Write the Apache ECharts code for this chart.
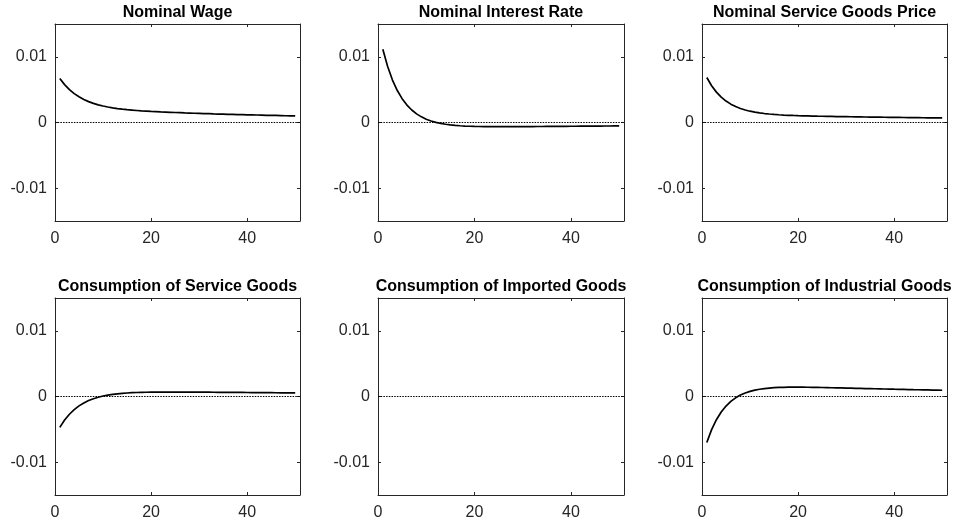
<!DOCTYPE html>
<html>
<head>
<meta charset="utf-8">
<script src="https://cdn.jsdelivr.net/npm/echarts@6/dist/echarts.min.js"></script>
<style>
html,body{margin:0;padding:0;background:#fff;}
#chart{width:953px;height:527px;}
</style>
</head>
<body>
<div id="chart"></div>
<script>
// ---------- DATA ----------
const periods = [1,2,3,4,5,6,7,8,9,10,11,12,13,14,15,16,17,18,19,20,21,22,23,24,25,26,27,28,29,30,31,32,33,34,35,36,37,38,39,40,41,42,43,44,45,46,47,48,49,50];

const panelTitles = ["Nominal Wage","Nominal Interest Rate","Nominal Service Goods Price","Consumption of Service Goods","Consumption of Imported Goods","Consumption of Industrial Goods"];

const nominalWage = [0.0067,0.00577,0.00501,0.0044,0.00391,0.00351,0.00318,0.00291,0.00269,0.00251,
  0.00236,0.00223,0.00212,0.00203,0.00195,0.00189,0.00183,0.00177,0.00173,0.00168,
  0.00165,0.00161,0.00158,0.00155,0.00152,0.00149,0.00146,0.00144,0.00141,0.00139,
  0.00136,0.00134,0.00131,0.00129,0.00127,0.00125,0.00123,0.00121,0.00119,0.00117,
  0.00116,0.00114,0.00112,0.0011,0.00108,0.00107,0.00105,0.00103,0.00102,0.001];

const nominalInterestRate = [0.01115,0.008519,0.006468,0.00487,0.003626,0.002656,0.001902,0.001316,0.00086,0.000506,
  0.000232,0.000019,-0.000145,-0.000271,-0.000367,-0.000442,-0.000498,-0.000541,-0.000572,-0.000595,
  -0.000612,-0.000623,-0.000631,-0.000635,-0.000637,-0.000637,-0.000636,-0.000634,-0.00063,-0.000626,
  -0.000622,-0.000617,-0.000612,-0.000607,-0.000602,-0.000597,-0.000591,-0.000586,-0.00058,-0.000574,
  -0.000569,-0.000563,-0.000557,-0.000552,-0.000546,-0.000541,-0.000535,-0.00053,-0.000525,-0.000519];

const serviceGoodsPrice = [0.00685,0.005603,0.004627,0.003863,0.003264,0.002794,0.002424,0.002133,0.001902,0.00172,
  0.001575,0.001459,0.001366,0.001291,0.001229,0.001178,0.001136,0.0011,0.00107,0.001044,
  0.001021,0.001,0.000982,0.000965,0.00095,0.000935,0.000922,0.000909,0.000897,0.000885,
  0.000873,0.000862,0.000851,0.00084,0.000829,0.000819,0.00081,0.0008,0.00079,0.000781,
  0.000771,0.000762,0.000753,0.000744,0.000735,0.000726,0.000717,0.000709,0.0007,0.000692];

const serviceConsumption = [-0.0047,-0.003589,-0.002702,-0.001994,-0.001429,-0.000979,-0.000621,-0.000335,-0.00011,0.00007,
  0.000213,0.000325,0.000413,0.000482,0.000536,0.000577,0.000609,0.000633,0.00065,0.000663,
  0.000672,0.000677,0.00068,0.000681,0.000681,0.000679,0.000676,0.000673,0.000668,0.000664,
  0.000659,0.000654,0.000648,0.000643,0.000637,0.000631,0.000625,0.000619,0.000613,0.000607,
  0.000601,0.000595,0.000589,0.000583,0.000577,0.000572,0.000566,0.000561,0.000555,0.00055];

// no visible response curve is drawn in this panel
const importedConsumption = [];

const industrialConsumption = [-0.007,-0.00505,-0.003536,-0.00236,-0.001449,-0.000744,-0.0002,0.000218,0.000539,0.000784,
  0.000968,0.001109,0.001212,0.001287,0.001341,0.001377,0.001401,0.001416,0.001421,0.001421,
  0.001416,0.001407,0.001396,0.001383,0.001369,0.001353,0.001336,0.001319,0.001301,0.001283,
  0.001266,0.001248,0.00123,0.001213,0.001194,0.001177,0.00116,0.001143,0.001126,0.001109,
  0.001093,0.001076,0.00106,0.001044,0.001029,0.001013,0.000998,0.000983,0.000968,0.000954];

const xTicks = [0, 20, 40];
const yTicks = [-0.01, 0, 0.01];
const xRange = [0, 51];
const yRange = [-0.015, 0.015];
const zeroLevel = 0;

// ---------- LAYOUT ----------
const panelValues = [nominalWage, nominalInterestRate, serviceGoodsPrice, serviceConsumption, importedConsumption, industrialConsumption];
const rects = [
  {left:55, top:24, width:245, height:197},
  {left:378, top:24, width:246, height:197},
  {left:702, top:24, width:245, height:197},
  {left:55, top:298, width:245, height:197},
  {left:378, top:298, width:246, height:197},
  {left:702, top:298, width:245, height:197}
];

const FONT = "'Liberation Sans', Arial, Helvetica, sans-serif";
const AX = '#262626';

const grids = [], xAxes = [], yAxes = [], series = [], graphics = [];

rects.forEach((r, k) => {
  grids.push({left:r.left, top:r.top, width:r.width, height:r.height, containLabel:false});
  const lineStyle = {color: AX, width: 1};
  ['bottom','top'].forEach((pos, j) => {
    xAxes.push({
      type:'value', gridIndex:k, position:pos, min:xRange[0], max:xRange[1],
      axisLine:{show:true, onZero:false, lineStyle},
      axisTick:{show:true, inside:true, length:3, customValues:xTicks, lineStyle},
      axisLabel:{show:j===0, customValues:xTicks, fontSize:16, color:AX, fontFamily:FONT, margin:10},
      splitLine:{show:false}
    });
  });
  ['left','right'].forEach((pos, j) => {
    yAxes.push({
      type:'value', gridIndex:k, position:pos, min:yRange[0], max:yRange[1],
      axisLine:{show:true, onZero:false, lineStyle},
      axisTick:{show:true, inside:true, length:3, customValues:yTicks, lineStyle},
      axisLabel:{show:j===0, customValues:yTicks, fontSize:16, color:AX, fontFamily:FONT, margin:8,
        formatter: v => (v === 0 ? '0' : String(v))},
      splitLine:{show:false}
    });
  });
  const vals = panelValues[k];
  series.push({
    type:'line', xAxisIndex:2*k, yAxisIndex:2*k,
    data: vals.map((v, i) => [periods[i], v]),
    showSymbol:false, symbol:'none', smooth:false,
    lineStyle:{color:'#000', width:1.7},
    z:2,
    markLine:{
      silent:true, symbol:['none','none'], label:{show:false},
      lineStyle:{color:'#000', width:1, type:[1.5,1.2]},
      data:[{yAxis:zeroLevel}], z:3, animation:false
    }
  });
  graphics.push({
    type:'text',
    x: r.left + r.width/2, y: r.top - 11,
    style:{text:panelTitles[k], font:'bold 16px ' + FONT, fill:'#000', textAlign:'center', textVerticalAlign:'middle'}
  });
});

const chart = echarts.init(document.getElementById('chart'), null, {renderer:'canvas'});
chart.setOption({
  backgroundColor:'#fff',
  animation:false,
  grid:grids, xAxis:xAxes, yAxis:yAxes, series:series,
  graphic:graphics
});
</script>
</body>
</html>
